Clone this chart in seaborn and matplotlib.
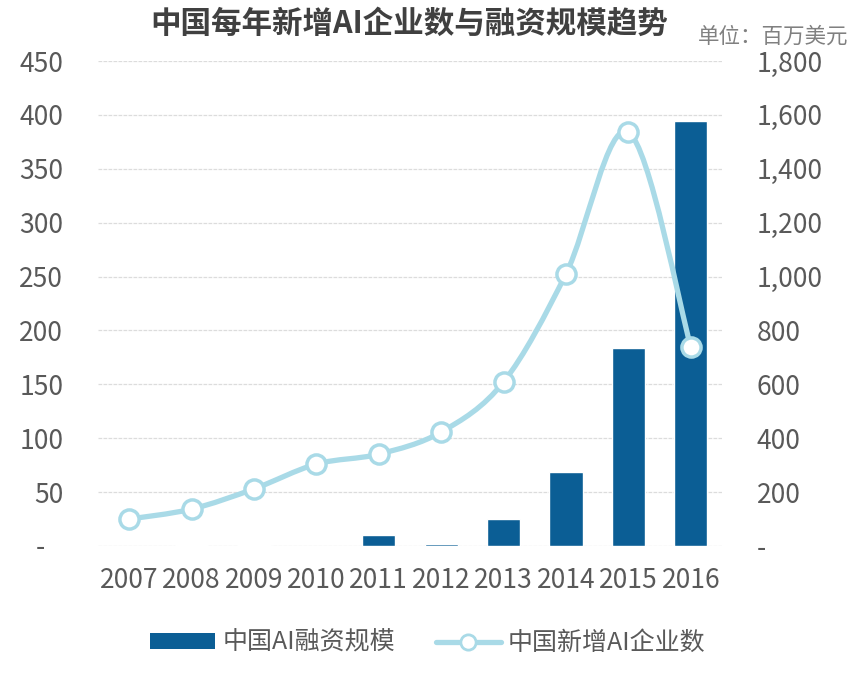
import matplotlib
matplotlib.use('Agg')
import matplotlib.pyplot as plt
import numpy as np
import pandas as pd
import seaborn as sns
from matplotlib.lines import Line2D
from matplotlib.patches import Patch, PathPatch
from matplotlib.path import Path

# 数据
years = ['2007', '2008', '2009', '2010', '2011', '2012', '2013', '2014', '2015', '2016']
funding = [0, 1.2, 1.2, 0, 10, 2, 25, 69, 184, 394]          # 中国AI融资规模（百万美元）
new_firms = [100, 137, 212, 304, 341, 423, 609, 1010, 1536, 739]   # 中国新增AI企业数

bar_color = '#0B5E95'
line_color = '#A9DAE7'
text_color = '#595959'

sns.set_theme(style='white')
plt.rcParams['font.family'] = ['Noto Sans CJK SC', 'DejaVu Sans']

df = pd.DataFrame({'year': years, 'funding': funding, 'firms': new_firms})

fig = plt.figure(figsize=(8.59, 6.77), dpi=100)
ax = fig.add_axes([98 / 859, 1 - 546 / 677, 624 / 859, 485 / 677])

sns.barplot(data=df, x='year', y='funding', color=bar_color, saturation=1,
            width=0.53, ax=ax, zorder=2)
ax.set_xlim(-0.5, 9.5)
ax.set_ylim(0, 450)
ax.set_yticks(range(0, 451, 50))
ax.set_yticklabels(['-   '] + [str(v) for v in range(50, 451, 50)])
ax.set_xlabel('')
ax.set_ylabel('')
ax.yaxis.grid(True, color='#DCDCDC', linestyle=(0, (3, 1)), linewidth=0.9)
ax.set_axisbelow(True)
ax.tick_params(axis='y', length=0, pad=25, labelsize=19, labelcolor=text_color)
ax.tick_params(axis='x', length=0, pad=15, labelsize=19, labelcolor=text_color)
for s in ax.spines.values():
    s.set_visible(False)

# 右轴：企业数，平滑曲线
ax2 = ax.twinx()
ax2.set_ylim(0, 1800)
ax2.set_yticks(range(0, 1801, 200))
ax2.set_yticklabels(['-'] + [f'{v:,}' for v in range(200, 1801, 200)])
ax2.tick_params(axis='y', length=0, pad=25, labelsize=19, labelcolor=text_color)
for s in ax2.spines.values():
    s.set_visible(False)
ax2.grid(False)

for lab in ax.get_xticklabels() + ax.get_yticklabels() + ax2.get_yticklabels():
    lab.set_fontweight('light')

xs = np.arange(len(years), dtype=float)
ys = np.array(new_firms, dtype=float)
pts = np.column_stack([xs, ys])
verts = [tuple(pts[0])]
codes = [Path.MOVETO]
n = len(pts)
for i in range(n - 1):
    p0 = pts[i - 1] if i > 0 else pts[i]
    p1 = pts[i]
    p2 = pts[i + 1]
    p3 = pts[i + 2] if i + 2 < n else pts[i + 1]
    c1 = p1 + (p2 - p0) / 6
    c2 = p2 - (p3 - p1) / 6
    verts += [tuple(c1), tuple(c2), tuple(p2)]
    codes += [Path.CURVE4] * 3
ax2.add_patch(PathPatch(Path(verts, codes), fill=False, edgecolor=line_color,
                        linewidth=3.8, capstyle='round', zorder=3))
sns.scatterplot(x=xs, y=ys, ax=ax2, s=190, color='white', edgecolor=line_color,
                linewidth=2.5, zorder=4, legend=False)

# 标题、单位
fig.text(0.476, 1 - 24 / 677, '中国每年新增AI企业数与融资规模趋势', ha='center', va='center',
         fontsize=22, fontweight='bold', color='#404040')
fig.text(848 / 859, 1 - 37 / 677, '单位：百万美元', ha='right', va='center',
         fontsize=15.5, color='#808080', fontweight='light')

# 图例
handles = [
    Patch(facecolor=bar_color, edgecolor='none'),
    Line2D([0], [0], color=line_color, linewidth=3.8, marker='o', markersize=11,
           markerfacecolor='white', markeredgecolor=line_color, markeredgewidth=2),
]
leg = fig.legend(handles, ['中国AI融资规模', '中国新增AI企业数'], loc='center',
                 bbox_to_anchor=(428 / 859, 1 - 643 / 677), ncol=2, frameon=False,
                 fontsize=18, labelcolor=text_color, handlelength=2.6, handleheight=0.6,
                 handletextpad=0.3, columnspacing=1.6)
for t in leg.get_texts():
    t.set_fontweight('light')

fig.savefig('out.png', dpi=100)
